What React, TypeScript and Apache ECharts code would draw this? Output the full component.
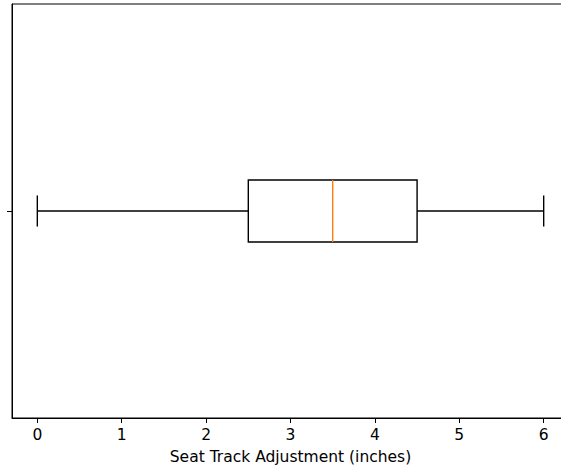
import React, { useEffect, useRef } from "react";
import * as echarts from "echarts";

const xTicks = [0, 1, 2, 3, 4, 5, 6];
const boxStats = [[0, 2.5, 3.5, 4.5, 6, 1]]; // [lowWhisker, q1, median, q3, highWhisker, position]
const xAxisTitle = "Seat Track Adjustment (inches)";

export default function App() {
  const ref = useRef<HTMLDivElement>(null);
  useEffect(() => {
    const chart = echarts.init(ref.current!, null, { renderer: "svg" });
    const font = "DejaVu Sans";
    chart.setOption({
      animation: false,
      backgroundColor: "#fff",
      grid: {
        left: 12,
        right: 1,
        top: 4,
        bottom: 49,
        outerBoundsMode: "none",
        containLabel: false,
        show: true,
        borderColor: "#000",
        borderWidth: 1,
      },
      xAxis: {
        type: "value",
        min: -0.3,
        max: 6.3,
        name: xAxisTitle,
        nameLocation: "middle",
        nameGap: 31,
        nameTextStyle: { fontFamily: font, fontSize: 15.5, color: "#000" },
        axisLine: { show: true, onZero: false, lineStyle: { color: "#000", width: 1 } },
        axisTick: { show: true, length: 5, customValues: xTicks, lineStyle: { color: "#000", width: 1 } },
        axisLabel: { customValues: xTicks, fontFamily: font, fontSize: 15.5, color: "#000", margin: 9 },
        splitLine: { show: false },
      },
      yAxis: {
        type: "value",
        min: 0.5,
        max: 1.5,
        axisLine: { show: true, onZero: false, lineStyle: { color: "#000", width: 1 } },
        axisTick: { show: true, length: 5, customValues: [1], lineStyle: { color: "#000", width: 1 } },
        axisLabel: { show: false },
        splitLine: { show: false },
      },
      series: [
        {
          type: "custom",
          data: boxStats,
          encode: { x: [0, 1, 2, 3, 4], y: 5 },
          renderItem: (params: any, api: any) => {
            const lo = api.value(0);
            const q1 = api.value(1);
            const med = api.value(2);
            const q3 = api.value(3);
            const hi = api.value(4);
            const pos = api.value(5);
            const half = 0.075;
            const capHalf = 0.0375;
            const [xLo, yC] = api.coord([lo, pos]);
            const [xQ1] = api.coord([q1, pos]);
            const [xMed] = api.coord([med, pos]);
            const [xQ3] = api.coord([q3, pos]);
            const [xHi] = api.coord([hi, pos]);
            const yTop = api.coord([0, pos + half])[1];
            const yBot = api.coord([0, pos - half])[1];
            const cTop = api.coord([0, pos + capHalf])[1];
            const cBot = api.coord([0, pos - capHalf])[1];
            const ls = { stroke: "#000", lineWidth: 1.4, fill: null };
            return {
              type: "group",
              children: [
                { type: "line", shape: { x1: xLo, y1: yC, x2: xQ1, y2: yC }, style: ls },
                { type: "line", shape: { x1: xQ3, y1: yC, x2: xHi, y2: yC }, style: ls },
                { type: "line", shape: { x1: xLo, y1: cTop, x2: xLo, y2: cBot }, style: ls },
                { type: "line", shape: { x1: xHi, y1: cTop, x2: xHi, y2: cBot }, style: ls },
                { type: "rect", shape: { x: xQ1, y: yTop, width: xQ3 - xQ1, height: yBot - yTop }, style: { stroke: "#000", lineWidth: 1.4, fill: "none" } },
                { type: "line", shape: { x1: xMed, y1: yTop, x2: xMed, y2: yBot }, style: { stroke: "#ff7f0e", lineWidth: 1.4 } },
              ],
            };
          },
        },
      ],
    });
    return () => chart.dispose();
  }, []);
  return (
    <div style={{ width: 561, height: 467, position: "absolute", left: 0, top: 0, overflow: "hidden", background: "#fff" }}>
      <div ref={ref} style={{ width: 570, height: 467 }} />
    </div>
  );
}
